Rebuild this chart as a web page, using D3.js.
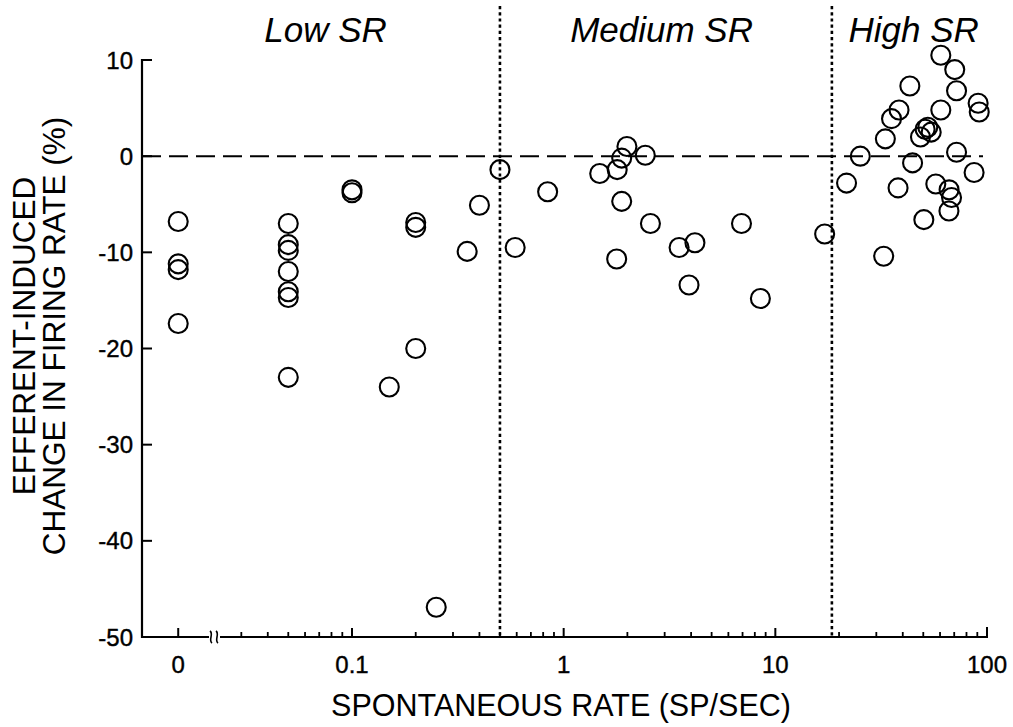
<!DOCTYPE html>
<html>
<head>
<meta charset="utf-8">
<script src="https://cdn.jsdelivr.net/npm/d3@7/dist/d3.min.js"></script>
<style>
  html, body { margin: 0; padding: 0; background: #fff; }
  svg { display: block; }
  text { font-family: "Liberation Sans", Arial, Helvetica, sans-serif; fill: #000; }
</style>
</head>
<body>
<svg id="chart" width="1013" height="727"></svg>
<script>
// ---------- data ----------
// spontaneous rate (sp/sec); 0 is plotted on the separate "0" position left of the axis break
const rateLow = [0, 0, 0, 0,
  0.05, 0.05, 0.05, 0.05, 0.05, 0.05, 0.05,
  0.1, 0.1, 0.15, 0.2, 0.2, 0.2, 0.25, 0.35, 0.4, 0.5];
const changeLow = [-6.8, -11.2, -11.8, -17.4,
  -7.0, -9.2, -9.8, -12.0, -14.1, -14.7, -23.0,
  -3.5, -3.8, -24.0, -6.9, -7.4, -20.0, -46.9, -9.9, -5.1, -1.4];

const rateMedium = [0.59, 0.84, 1.48, 1.79, 1.88, 1.99, 2.43, 1.88, 2.57, 1.78,
  3.51, 4.17, 3.91, 6.92, 8.5, 17.1];
const changeMedium = [-9.5, -3.7, -1.8, -1.4, -0.2, 1.0, 0.1, -4.7, -7.0, -10.7,
  -9.5, -9.0, -13.4, -7.0, -14.8, -8.1];

const rateHigh = [21.7, 25.2, 32.5, 33.1, 35.4, 38.4, 43.2, 38, 44.5, 48.5,
  51, 52.5, 54.5, 50.3, 57.3, 60.5, 60.5, 70.4, 71.8, 71.8,
  66.2, 68, 66.1, 86.9, 90.8, 91.9];
const changeHigh = [-2.8, 0.0, -10.4, 1.8, 3.9, 4.8, 7.3, -3.3, -0.7, 2.0,
  2.8, 3.0, 2.5, -6.6, -2.9, 4.8, 10.5, 9.0, 6.8, 0.4,
  -3.5, -4.3, -5.7, -1.7, 5.5, 4.6];

const xTickValues = [0, 0.1, 1, 10, 100];
const xTickLabels = ["0", "0.1", "1", "10", "100"];
const xMinorTicks = [0.03, 0.04, 0.05, 0.06, 0.07, 0.08, 0.09,
  0.2, 0.3, 0.4, 0.5, 0.6, 0.7, 0.8, 0.9,
  2, 3, 4, 5, 6, 7, 8, 9,
  20, 30, 40, 50, 60, 70, 80, 90];
const yTickValues = [10, 0, -10, -20, -30, -40, -50];
const yTickLabels = ["10", "0", "-10", "-20", "-30", "-40", "-50"];

const groupBoundaries = [0.5, 18.5];
const groupLabels = ["Low SR", "Medium SR", "High SR"];
const groupLabelRates = [0.075, 2.9, 45];

const xTitle = "SPONTANEOUS RATE (SP/SEC)";
const yTitle = ["EFFERENT-INDUCED", "CHANGE IN FIRING RATE (%)"];

// ---------- layout ----------
const svg = d3.select("#chart");
const axisLeftX = 142, axisBottomY = 637, axisTopY = 60;
const x = d3.scaleLog().domain([0.1, 100]).range([352, 987]);
const zeroStandIn = 0.0151;           // where the "0" category sits, left of the break
const xp = v => v === 0 ? x(zeroStandIn) : x(v);
const y = d3.scaleLinear().domain([-50, 10]).range([axisBottomY, axisTopY]);
const breakX = 209;

// dashed zero line
svg.append("line")
  .attr("x1", axisLeftX).attr("x2", 983)
  .attr("y1", y(0)).attr("y2", y(0))
  .attr("stroke", "#000").attr("stroke-width", 2)
  .attr("stroke-dasharray", "19,8");

// dotted group boundaries
svg.selectAll("line.bound").data(groupBoundaries).enter().append("line")
  .attr("class", "bound")
  .attr("x1", d => x(d)).attr("x2", d => x(d))
  .attr("y1", 6).attr("y2", axisBottomY)
  .attr("stroke", "#000").attr("stroke-width", 2.6)
  .attr("stroke-dasharray", "3.2,3");

// y axis
const yAxisG = svg.append("g");
yAxisG.append("line")
  .attr("x1", axisLeftX).attr("x2", axisLeftX)
  .attr("y1", axisTopY - 1).attr("y2", axisBottomY + 1)
  .attr("stroke", "#000").attr("stroke-width", 2.2);
yAxisG.selectAll("line.yt").data(yTickValues).enter().append("line")
  .attr("x1", axisLeftX).attr("x2", axisLeftX + 10)
  .attr("y1", d => y(d)).attr("y2", d => y(d))
  .attr("stroke", "#000").attr("stroke-width", 2);
yAxisG.selectAll("text").data(yTickValues).enter().append("text")
  .attr("x", 133).attr("y", d => y(d)).attr("dy", "0.36em")
  .attr("text-anchor", "end").attr("font-size", 24)
  .attr("stroke", "#000").attr("stroke-width", 0.4)
  .text((d, i) => yTickLabels[i]);

// x axis with break
const xAxisG = svg.append("g");
xAxisG.append("line")
  .attr("x1", axisLeftX - 1).attr("x2", breakX)
  .attr("y1", axisBottomY).attr("y2", axisBottomY)
  .attr("stroke", "#000").attr("stroke-width", 2.2);
xAxisG.append("line")
  .attr("x1", breakX + 11).attr("x2", x(100) + 1)
  .attr("y1", axisBottomY).attr("y2", axisBottomY)
  .attr("stroke", "#000").attr("stroke-width", 2.2);
[breakX + 2, breakX + 8].forEach(bx => {
  xAxisG.append("path")
    .attr("d", `M${bx - 1},${axisBottomY - 6} C${bx + 3},${axisBottomY - 3} ${bx - 3},${axisBottomY + 3} ${bx + 1},${axisBottomY + 6}`)
    .attr("fill", "none").attr("stroke", "#000").attr("stroke-width", 1.6);
});
xAxisG.selectAll("line.xmaj").data(xTickValues).enter().append("line")
  .attr("x1", d => xp(d)).attr("x2", d => xp(d))
  .attr("y1", axisBottomY).attr("y2", d => axisBottomY - (d === 100 ? 10 : 9))
  .attr("stroke", "#000").attr("stroke-width", 2);
xAxisG.selectAll("line.xmin").data(xMinorTicks).enter().append("line")
  .attr("x1", d => x(d)).attr("x2", d => x(d))
  .attr("y1", axisBottomY).attr("y2", axisBottomY - 5)
  .attr("stroke", "#000").attr("stroke-width", 1.8);
xAxisG.selectAll("text").data(xTickValues).enter().append("text")
  .attr("x", d => xp(d)).attr("y", 673)
  .attr("text-anchor", "middle").attr("font-size", 24)
  .attr("stroke", "#000").attr("stroke-width", 0.4)
  .text((d, i) => xTickLabels[i]);

// points
const points = []
  .concat(rateLow.map((r, i) => ({ r, c: changeLow[i] })))
  .concat(rateMedium.map((r, i) => ({ r, c: changeMedium[i] })))
  .concat(rateHigh.map((r, i) => ({ r, c: changeHigh[i] })));
svg.append("g").selectAll("circle").data(points).enter().append("circle")
  .attr("cx", d => xp(d.r)).attr("cy", d => y(d.c)).attr("r", 9.5)
  .attr("fill", "none")
  .attr("stroke", "#000").attr("stroke-width", 2.1);

// group labels
svg.selectAll("text.grp").data(groupLabels).enter().append("text")
  .attr("class", "grp")
  .attr("x", (d, i) => x(groupLabelRates[i])).attr("y", 42)
  .attr("text-anchor", "middle").attr("font-size", 35).attr("font-style", "italic")
  .text(d => d);

// axis titles
svg.append("text")
  .attr("x", 561).attr("y", 716)
  .attr("text-anchor", "middle").attr("font-size", 30.5)
  .text(xTitle);
svg.selectAll("text.ytitle").data(yTitle).enter().append("text")
  .attr("class", "ytitle")
  .attr("transform", (d, i) => `translate(${i === 0 ? 35 : 65},336) rotate(-90)`)
  .attr("text-anchor", "middle").attr("font-size", 31.5)
  .text(d => d);
</script>
</body>
</html>
